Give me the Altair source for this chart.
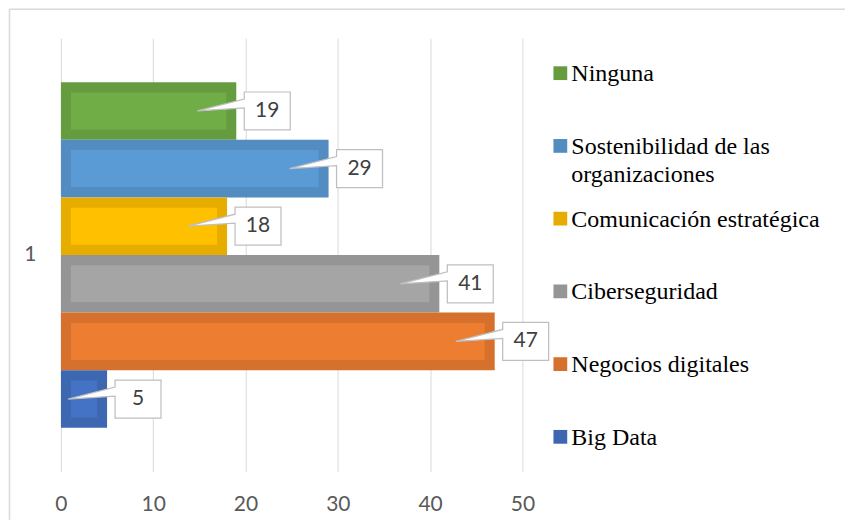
import altair as alt
import pandas as pd

# ---- data ----
series = ["Ninguna", "Sostenibilidad de las organizaciones", "Comunicación estratégica",
          "Ciberseguridad", "Negocios digitales", "Big Data"]
legend_labels = ["Ninguna", "Sostenibilidad de las\norganizaciones", "Comunicación estratégica",
                 "Ciberseguridad", "Negocios digitales", "Big Data"]
values = [19, 29, 18, 41, 47, 5]
category = ["1"] * 6
x_ticks = [0, 10, 20, 30, 40, 50]

light_colors = ["#70AD47", "#5B9BD5", "#FFC000", "#A5A5A5", "#ED7D31", "#4472C4"]
dark_colors = ["#659C40", "#528CC0", "#E6AD00", "#959595", "#D5712C", "#3D67B0"]

df = pd.DataFrame({"cat": category, "series": series, "value": values, "legend": legend_labels})
frame_df = pd.DataFrame({"a": [0]})

num_font = "Lato"

x_enc = alt.X("value:Q", scale=alt.Scale(domain=[0, 50], nice=False),
              axis=alt.Axis(values=x_ticks, title=None, domain=False, ticks=False,
                            grid=True, gridColor="#d9d9d9", gridWidth=1, labelFlush=False,
                            labelFont=num_font, labelFontSize=21, labelColor="#595959",
                            labelPadding=22))
y_enc = alt.Y("cat:N", scale=alt.Scale(paddingOuter=0.127, paddingInner=0),
              axis=alt.Axis(title=None, domain=False, ticks=False, labelFont=num_font,
                            labelFontSize=21, labelColor="#595959", labelPadding=25))
yoff = alt.YOffset("series:N", sort=series, scale=alt.Scale(paddingInner=0, paddingOuter=0))
color_enc = alt.Color("series:N", scale=alt.Scale(domain=series, range=dark_colors), legend=None)

base = alt.Chart(df)

outer = base.mark_bar().encode(x=x_enc, y=y_enc, yOffset=yoff, color=color_enc)
inner = base.transform_calculate(zero="0").mark_bar(size=37, xOffset=10, x2Offset=-10).encode(
    x=alt.X("zero:Q"), x2=alt.X2("value:Q"), y=y_enc, yOffset=yoff,
    fill=alt.Fill("series:N", scale=alt.Scale(domain=series, range=light_colors), legend=None))

callout_path = ("M-0.78,0 L0.16,-0.24 L0.16,-0.38 L1.08,-0.38 L1.08,0.38 "
                "L0.16,0.38 L0.16,-0.06 Z")
callouts = base.mark_point(shape=callout_path, size=10000, filled=True, fill="white",
                           stroke="#bfbfbf", strokeWidth=1.25, opacity=1).encode(
    x=x_enc, y=y_enc, yOffset=yoff)
labels = base.mark_text(dx=31, align="center", baseline="middle", font=num_font,
                        fontSize=21, color="#404040").encode(
    x=x_enc, y=y_enc, yOffset=yoff, text="value:Q")

plot = alt.layer(outer, inner, callouts, labels).properties(width=462, height=434)

# outer chart frame (light grey top and left edges of the figure)
frame_top = alt.Chart(frame_df).mark_rule(color="#d9d9d9", strokeWidth=1.5).encode(
    x=alt.value(-533.5), x2=alt.value(303), y=alt.value(-29))
frame_left = alt.Chart(frame_df).mark_rule(color="#d9d9d9", strokeWidth=1.5).encode(
    x=alt.value(-533.5), y=alt.value(-29), y2=alt.value(482))

leg_y = alt.Y("series:N", sort=series, scale=alt.Scale(type="point", padding=0.48), axis=None)
leg_sq = base.mark_square(size=190, opacity=1).encode(
    x=alt.value(18), y=leg_y, color=color_enc)
leg_txt = base.mark_text(align="left", baseline="alphabetic", dy=8, lineBreak="\n",
                         lineHeight=28, font="Liberation Serif", fontSize=24,
                         color="#000000").encode(
    x=alt.value(29), y=leg_y, text="legend:N")
legend = alt.layer(frame_top, frame_left, leg_sq, leg_txt).properties(width=280, height=434)

chart = alt.hconcat(plot, legend, spacing=20, bounds="flush").properties(
    padding=0,
    background="white",
).configure_view(stroke=None)

chart.save("out.html", embed_options={"renderer": "svg", "actions": False})
